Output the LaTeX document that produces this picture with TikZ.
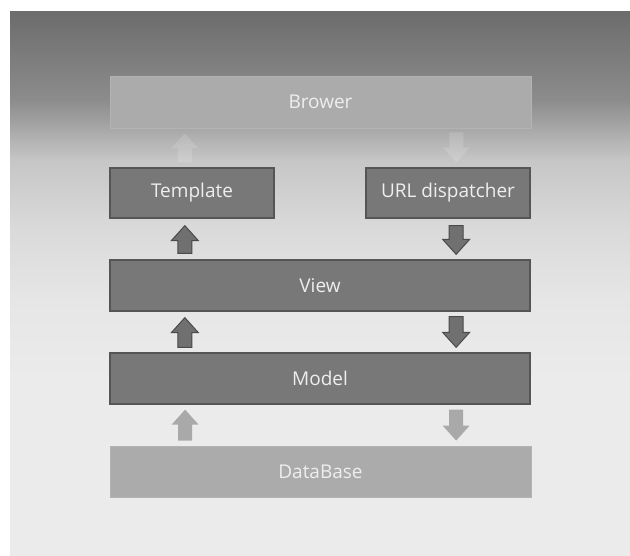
\documentclass[tikz,border=0pt]{standalone}
\usepackage{fontspec}
\setmainfont{Open Sans}
\usetikzlibrary{calc}
\definecolor{bgA}{HTML}{6C6C6C}
\definecolor{bgB}{HTML}{8C8C8C}
\definecolor{bgC}{HTML}{A8A8A8}
\definecolor{bgD}{HTML}{C6C6C6}
\definecolor{bgE}{HTML}{DADADA}
\definecolor{bgF}{HTML}{E6E6E6}
\definecolor{bgG}{HTML}{EBEBEB}
\definecolor{boxdark}{HTML}{787878}
\definecolor{boxedge}{HTML}{555555}
\definecolor{boxlight}{HTML}{ABABAB}
\definecolor{boxtext}{HTML}{EEEEEE}
\definecolor{arrdark}{HTML}{707070}
\definecolor{arredge}{HTML}{4A4A4A}
\definecolor{arrlight}{HTML}{A9A9A9}
\pgfdeclareverticalshading{bgshade}{100bp}{%
  color(0bp)=(bgG); color(25bp)=(bgG); color(41.2bp)=(bgG);
  color(48.5bp)=(bgF); color(55bp)=(bgE); color(61.4bp)=(bgD);
  color(66.9bp)=(bgB); color(75bp)=(bgA); color(100bp)=(bgA)}
\newcommand{\uparr}[3]{%
  \path[#1] let \p1=(#2), \p2=(#3) in
    (\x1-7pt,\y1) -- (\x1-7pt,\y2-15pt) -- (\x1-13.5pt,\y2-15pt) -- (\x1,\y2)
    -- (\x1+13.5pt,\y2-15pt) -- (\x1+7pt,\y2-15pt) -- (\x1+7pt,\y1) -- cycle;}
\newcommand{\downarr}[3]{%
  \path[#1] let \p1=(#2), \p2=(#3) in
    (\x1-7pt,\y1) -- (\x1-7pt,\y2+15pt) -- (\x1-13.5pt,\y2+15pt) -- (\x1,\y2)
    -- (\x1+13.5pt,\y2+15pt) -- (\x1+7pt,\y2+15pt) -- (\x1+7pt,\y1) -- cycle;}
\begin{document}
\begin{tikzpicture}[x=1pt,y=-1pt,
  darkbox/.style={rectangle, fill=boxdark, draw=boxedge, line width=1.3pt,
    text=boxtext, font=\fontsize{19}{22}\selectfont, inner sep=0pt},
  lightbox/.style={rectangle, fill=boxlight, draw=boxlight!90!white, line width=0.8pt,
    text=boxtext, font=\fontsize{19}{22}\selectfont, inner sep=0pt},
  darkarrow/.style={fill=arrdark, draw=arredge, line width=1pt, line join=miter},
  lightarrow/.style={fill=arrlight},
  faintarrow/.style={fill=white, fill opacity=0.14}]
\useasboundingbox (0,0) rectangle (630,556);
\shade[shading=bgshade] (10,12) rectangle (630,556);

\node[lightbox, minimum width=421pt, minimum height=52pt] (brower) at (320.5,102) {Brower};
\node[darkbox, minimum width=164pt, minimum height=50pt] (template) at (192,193) {Template};
\node[darkbox, minimum width=164pt, minimum height=50pt] (url) at (448,193) {URL dispatcher};
\node[darkbox, minimum width=420pt, minimum height=51pt] (view) at (320,285.5) {View};
\node[darkbox, minimum width=420pt, minimum height=51pt] (model) at (320,378.5) {Model};
\node[lightbox, minimum width=421pt, minimum height=51pt] (db) at (320.5,471.5) {DataBase};

% left column (upward)
\uparr{faintarrow}{$(template.north west)+(75.5pt,5pt)$}{$(brower.south west)+(75.5pt,-5pt)$}
\uparr{darkarrow}{$(view.north west)+(75.5pt,6pt)$}{$(template.south west)+(75.5pt,-7pt)$}
\uparr{darkarrow}{$(model.north west)+(75.5pt,5pt)$}{$(view.south west)+(75.5pt,-6pt)$}
\uparr{lightarrow}{$(db.north west)+(75.5pt,5pt)$}{$(model.south west)+(75.5pt,-5pt)$}
% right column (downward)
\downarr{faintarrow}{$(brower.south east)+(-75pt,-4pt)$}{$(url.north east)+(-75pt,5pt)$}
\downarr{darkarrow}{$(url.south east)+(-74.5pt,-7pt)$}{$(view.north east)+(-74.5pt,5pt)$}
\downarr{darkarrow}{$(view.south east)+(-74.5pt,-5pt)$}{$(model.north east)+(-74.5pt,5pt)$}
\downarr{lightarrow}{$(model.south east)+(-74.5pt,-5pt)$}{$(db.north east)+(-74.5pt,5pt)$}
\end{tikzpicture}
\end{document}
